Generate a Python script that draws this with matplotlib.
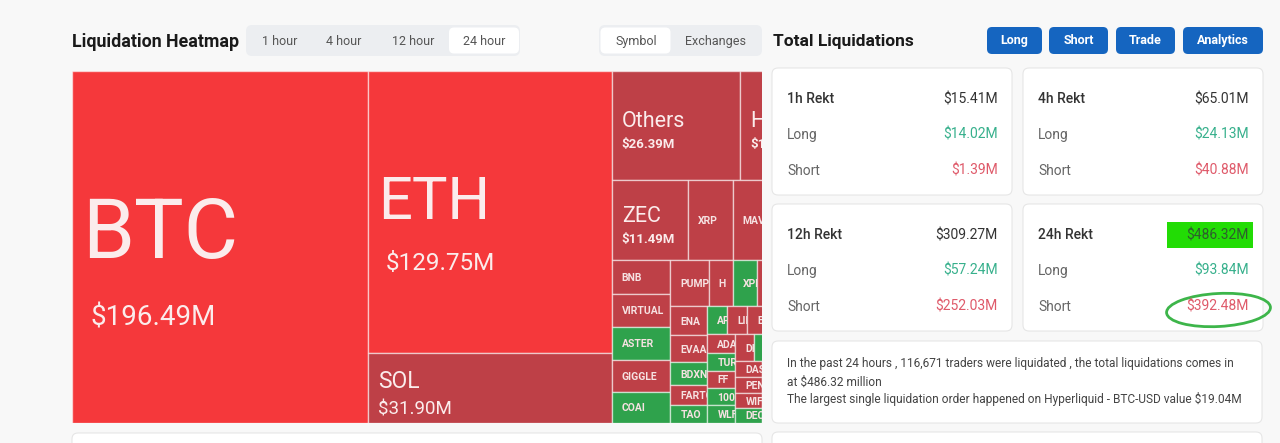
import matplotlib
matplotlib.use("Agg")
import matplotlib.pyplot as plt
from matplotlib.patches import Rectangle, FancyBboxPatch, Ellipse

plt.rcParams["font.family"] = ["Roboto", "DejaVu Sans"]

# ---- 24 hour liquidations by symbol ($M), largest first (treemap order)
coins = ["BTC", "ETH", "SOL", "Others", "HYPE", "ZEC", "XRP", "MAV", "",
         "BNB", "VIRTUAL", "ASTER", "GIGGLE", "COAI",
         "PUMP", "H", "XPL", "", "",
         "ENA", "EVAA", "BDXN", "FARTCOIN", "TAO",
         "APT", "LINK", "B", "", "",
         "ADA", "TURBO", "FF", "1000", "WLFI",
         "DI", "", "", "",
         "DASH", "PENGU", "WIF", "DEC",
         "", "", "", "", "", "", "", ""]
values = [196.49, 129.75, 31.90, 26.39, 13.40, 11.49, 6.80, 6.05, 4.90,
          3.70, 3.66, 3.60, 3.52, 3.42,
          3.32, 2.13, 2.10, 2.08, 2.05,
          2.03, 1.89, 1.61, 1.40, 1.19,
          1.06, 1.05, 1.04, 1.03, 1.00,
          0.97, 0.94, 0.92, 0.92, 0.90,
          0.90, 0.87, 0.85, 0.84,
          0.82, 0.78, 0.74, 0.72,
          0.70, 0.68, 0.66, 0.64, 0.62, 0.60, 0.58, 0.56]
tones = ["hot", "hot", "red", "red", "red", "red", "red", "red", "red",
         "red", "red", "green", "red", "green",
         "red", "red", "green", "red", "red",
         "red", "red", "green", "red", "green",
         "green", "red", "red", "red", "red",
         "red", "green", "red", "green", "green",
         "red", "green", "red", "red",
         "red", "red", "red", "green",
         "red", "red", "red", "red", "red", "red", "red", "red"]

# ---- Total Liquidations panel ($M)
windows = ["1h", "4h", "12h", "24h"]
rekt_total = [15.41, 65.01, 309.27, 486.32]
rekt_long = [14.02, 24.13, 57.24, 93.84]
rekt_short = [1.39, 40.88, 252.03, 392.48]
summary = ["In the past 24 hours , 116,671 traders were liquidated , the total liquidations comes in",
           "at $486.32 million",
           "The largest single liquidation order happened on Hyperliquid - BTC-USD value $19.04M"]

tabs_time = ["1 hour", "4 hour", "12 hour", "24 hour"]
tabs_group = ["Symbol", "Exchanges"]
buttons = ["Long", "Short", "Trade", "Analytics"]

TONE = {"hot": "#F5383B", "red": "#BE4047", "green": "#2FA24C"}
GREEN_TXT = "#37B08C"
RED_TXT = "#DF5A6A"
GOLDEN = 0.5 * (1 + 5 ** 0.5)


def worst(row, fixed):
    s = sum(row)
    f = fixed * fixed * GOLDEN
    return max(f * max(row) / (s * s), s * s / (f * min(row)))


def place(row, fixed, rect, out, flush):
    x, y, w, h = rect
    horiz = fixed == w
    other = sum(row) / fixed
    span = h if horiz else w
    if flush or other > span:
        other = span
    pos = x if horiz else y
    end = x + w if horiz else y + h
    for i, a in enumerate(row):
        step = a / other
        if i == len(row) - 1 or end - pos < step:
            step = end - pos
        out.append((pos, y, step, other) if horiz else (x, pos, other, step))
        pos += step
    if horiz:
        rect[1] += other
        rect[3] -= other
    else:
        rect[0] += other
        rect[2] -= other


def squarify(vals, x, y, w, h):
    # squarified treemap, golden aspect target (echarts style)
    total = sum(vals)
    areas = [v / total * w * h for v in vals]
    rect = [x, y, w, h]
    out, row = [], []
    best = float("inf")
    fixed = min(w, h)
    i = 0
    while i < len(areas):
        row.append(areas[i])
        score = worst(row, fixed)
        if score <= best:
            best = score
            i += 1
        else:
            row.pop()
            place(row, fixed, rect, out, False)
            fixed = min(rect[2], rect[3])
            row, best = [], float("inf")
    if row:
        place(row, fixed, rect, out, True)
    return out


def label_style(v):
    # name size, value size, value weight, value indent
    if v >= 150:
        return 60, 20, "normal", 18
    if v >= 100:
        return 43, 17.5, "normal", 18
    if v >= 30:
        return 16.5, 13.5, "normal", 10
    if v >= 10:
        return 15.5, 9.5, "bold", 10
    return 7.5, None, None, 10


W, H = 1280, 443
fig = plt.figure(figsize=(W / 100, H / 100), dpi=100)
fig.patch.set_facecolor("#F8F8F8")
bg = fig.add_axes([0, 0, 1, 1])
bg.set_xlim(0, W)
bg.set_ylim(H, 0)
bg.axis("off")


def txt(x, y, s, **kw):
    kw.setdefault("va", "center")
    return bg.text(x, y, s, parse_math=False, **kw)


def box(x, y, w, h, fc, ec="none", r=6, lw=0.8):
    bg.add_patch(FancyBboxPatch((x, y), w, h, boxstyle="round,pad=0,rounding_size=%g" % r,
                                fc=fc, ec=ec, lw=lw))


# ---- header left
txt(72, 42, "Liquidation Heatmap", fontsize=12.8, weight="bold", color="#1A1A1A")
box(246, 25, 274, 31, "#ECEEF1")
box(449, 27.5, 70, 26, "white", r=5)
for lab, cx in zip(tabs_time, [280, 344, 413, 484]):
    txt(cx, 41, lab, fontsize=9, color="#555555", ha="center")
box(599, 25, 163, 31, "#ECEEF1")
box(600.5, 27.5, 70, 26, "white", r=5)
for lab, cx in zip(tabs_group, [636, 715]):
    txt(cx, 41, lab, fontsize=9, color="#555555", ha="center")

# ---- treemap
TM_X, TM_Y, TM_W, TM_H = 72, 71, 733, 351.5
VIS_R = 762
tm = fig.add_axes([TM_X / W, (H - TM_Y - TM_H) / H, (VIS_R - TM_X) / W, TM_H / H])
tm.set_xlim(TM_X, VIS_R)
tm.set_ylim(TM_Y + TM_H, TM_Y)
tm.axis("off")

rects = squarify(values, TM_X, TM_Y, TM_W, TM_H)
for name, v, tone, (x, y, w, h) in zip(coins, values, tones, rects):
    tm.add_patch(Rectangle((x, y), w, h, fc=TONE[tone], ec=(1, 1, 1, 0.55), lw=1.0))
    vis_w = min(x + w, VIS_R) - x
    if not name or vis_w <= 0:
        continue
    clip = Rectangle((x, y), vis_w, h, transform=tm.transData)
    name_pt, val_pt, val_w, val_pad = label_style(v)
    yc = y + h / 2
    if val_pt is None:
        t = tm.text(x + 10, yc, name, fontsize=name_pt, weight="bold", color="#F6E2E2",
                    va="center_baseline", parse_math=False, clip_on=True)
        t.set_clip_path(clip)
        continue
    cap1 = 0.711 * name_pt / 0.72
    cap2 = 0.711 * val_pt / 0.72
    gap = 0.8 * cap1
    blk = cap1 + gap + cap2
    top = yc - blk / 2 + 0.12 * blk
    t1 = tm.text(x + 10, top + cap1, name, fontsize=name_pt, color="#FBECEC",
                 va="baseline", parse_math=False, clip_on=True)
    t2 = tm.text(x + val_pad, top + blk, "$%.2fM" % v, fontsize=val_pt, weight=val_w,
                 color="#FBECEC", va="baseline", parse_math=False, clip_on=True)
    t1.set_clip_path(clip)
    t2.set_clip_path(clip)

# cards below the heatmap (cut off by the screenshot)
box(72, 433, 690, 30, "white", ec="#E6E6E6")
box(772, 432, 490, 30, "white", ec="#E6E6E6")

# ---- Total Liquidations panel
txt(773, 41, "Total Liquidations", fontsize=12.5, weight="bold", color="#1A1A1A")
for lab, bx, bw in zip(buttons, [987, 1049, 1116, 1183], [55, 59, 59, 80]):
    box(bx, 27, bw, 27, "#1565C0", r=5)
    txt(bx + bw / 2, 40.5, lab, fontsize=9, weight="bold", color="white", ha="center")

for k, win in enumerate(windows):
    cx = 772 + (k % 2) * 251
    cy = 68 + (k // 2) * 136
    box(cx, cy, 240, 127, "white", ec="#E6E6E6")
    txt(cx + 15, cy + 31, win + " Rekt", fontsize=10, weight="medium", color="#333333")
    txt(cx + 15, cy + 67, "Long", fontsize=10, color="#666666")
    txt(cx + 15, cy + 103, "Short", fontsize=10, color="#666666")
    if win == "24h":
        bg.add_patch(Rectangle((1167, 222), 86, 26, fc="#22DC05", ec="none"))
        txt(cx + 226, cy + 31, "$%.2fM" % rekt_total[k], fontsize=10, color="#2E5E2E", ha="right")
    else:
        txt(cx + 226, cy + 31, "$%.2fM" % rekt_total[k], fontsize=10, color="#333333", ha="right")
    txt(cx + 226, cy + 67, "$%.2fM" % rekt_long[k], fontsize=10, color=GREEN_TXT, ha="right")
    txt(cx + 226, cy + 103, "$%.2fM" % rekt_short[k], fontsize=10, color=RED_TXT, ha="right")

# hand-drawn circle round the 24h short figure
bg.add_patch(Ellipse((1218.5, 310), 104, 33, angle=-3, fill=False, ec="#3DB54A", lw=2.0))

box(772, 341, 490, 82, "white", ec="#E6E6E6")
for line, ly in zip(summary, [364, 382, 399]):
    txt(787, ly, line, fontsize=8.6, color="#444444")

fig.savefig("out.png", dpi=100, facecolor=fig.get_facecolor())
